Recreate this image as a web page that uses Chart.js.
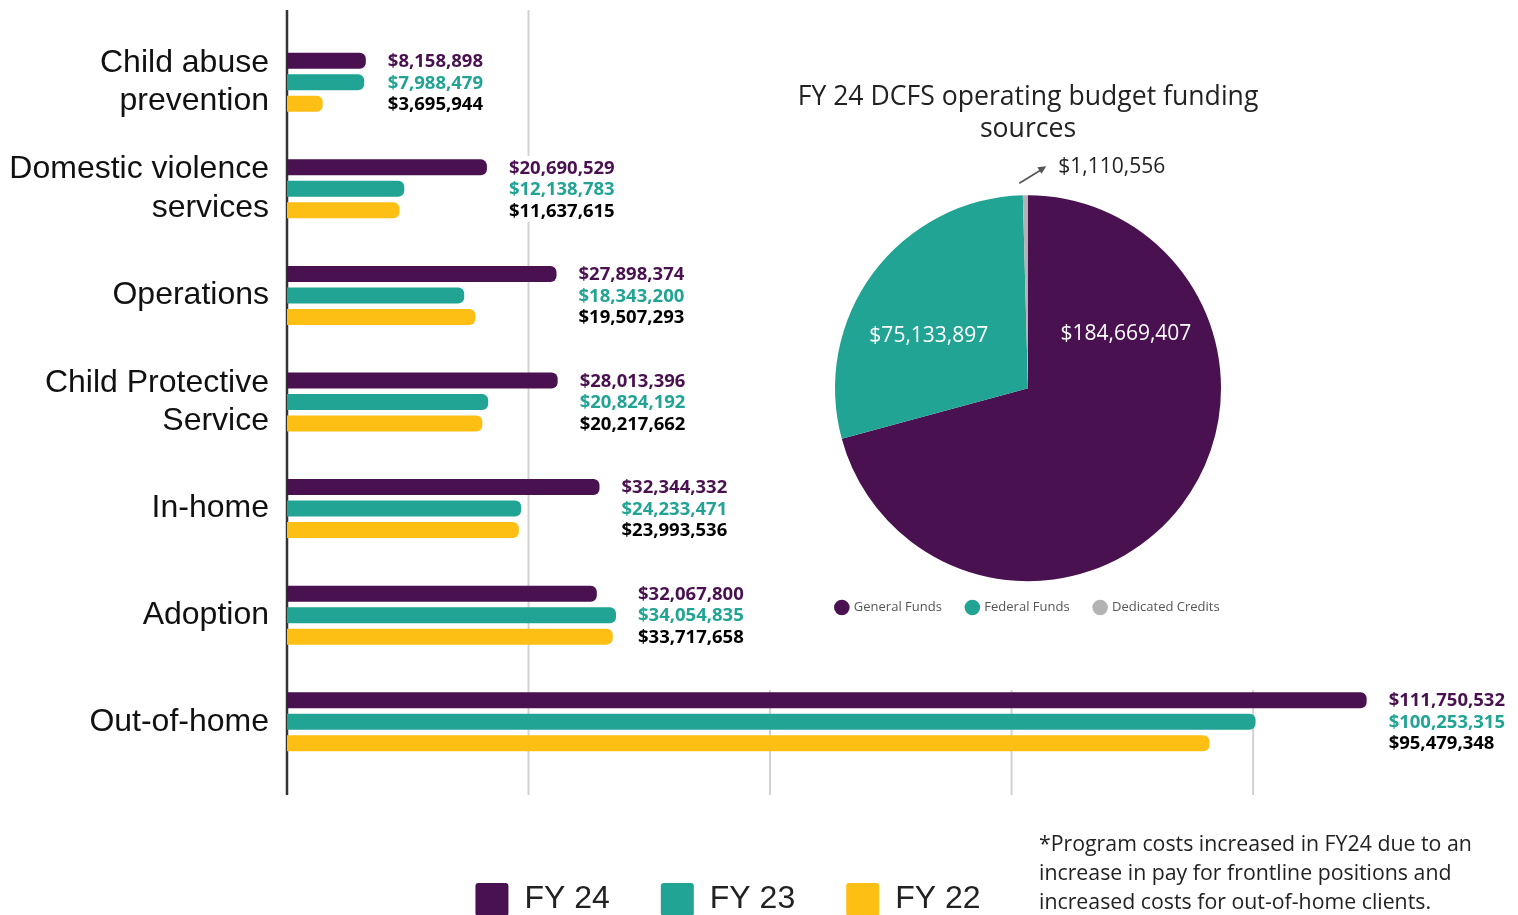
<!DOCTYPE html>
<html>
<head>
<meta charset="utf-8">
<script src="https://cdn.jsdelivr.net/npm/chart.js@4.4.0/dist/chart.umd.min.js"></script>
<style>
  html, body { margin: 0; padding: 0; background: #fff; overflow: hidden; }
  #bar-wrap { position: absolute; left: 0; top: 0; width: 1518px; height: 926px; }
  #pie-box { position: absolute; left: 760px; top: 0; width: 758px; height: 690px; background: #fff; }
  #pie-wrap { position: absolute; left: 18px; top: 70px; width: 500px; height: 554px; }
  #note { position: absolute; left: 1039px; top: 828px; font: 21.3px 'Open Sans', sans-serif; color: #222; line-height: 29px; }
</style>
</head>
<body>
<div id="bar-wrap"><canvas id="barChart"></canvas></div>
<div id="pie-box"><div id="pie-wrap"><canvas id="pieChart"></canvas></div></div>
<div id="note">*Program costs increased in FY24 due to an<br>increase in pay for frontline positions and<br>increased costs for out-of-home clients.</div>

<script>
// program spending by fiscal year
const programs = [
    ["Child abuse", "prevention"],
    ["Domestic violence", "services"],
    "Operations",
    ["Child Protective", "Service"],
    "In-home",
    "Adoption",
    "Out-of-home"
];
const fy24 = [8158898, 20690529, 27898374, 28013396, 32344332, 32067800, 111750532];
const fy23 = [7988479, 12138783, 18343200, 20824192, 24233471, 34054835, 100253315];
const fy22 = [3695944, 11637615, 19507293, 20217662, 23993536, 33717658, 95479348];
const yearLabels = ["FY 24", "FY 23", "FY 22"];
const gridValues = [0, 25000000, 50000000, 75000000, 100000000];

// FY 24 funding sources
const fundLabels = ["General Funds", "Federal Funds", "Dedicated Credits"];
const fundValues = [184669407, 75133897, 1110556];

const PURPLE = "#4a1150";
const TEAL = "#22a494";
const YELLOW = "#fdbf14";
const ARIAL = "'Liberation Sans', Arial, sans-serif";

Chart.defaults.font.family = "'Open Sans', sans-serif";

function money(v) {
    return "$" + v.toLocaleString("en-US");
}

// grid lines run a bit past the plot area, like the original
const extendedGrid = {
    id: "extendedGrid",
    beforeDatasetsDraw(chart) {
        const { ctx, chartArea, scales } = chart;
        const top = chartArea.top - 19;
        const bottom = chartArea.bottom + 20;
        ctx.save();
        gridValues.forEach(v => {
            const x = scales.x.getPixelForValue(v);
            ctx.beginPath();
            ctx.moveTo(x, top);
            ctx.lineTo(x, bottom);
            ctx.lineWidth = v === 0 ? 2.5 : 2;
            ctx.strokeStyle = v === 0 ? "#333" : "#d2d2d2";
            ctx.stroke();
        });
        ctx.restore();
    }
};

// stacked value labels to the right of each group
const groupLabels = {
    id: "groupLabels",
    afterDatasetsDraw(chart) {
        const { ctx } = chart;
        const colors = [PURPLE, TEAL, "#000"];
        ctx.save();
        ctx.font = "bold 18.5px 'Open Sans', sans-serif";
        ctx.textBaseline = "middle";
        ctx.textAlign = "left";
        chart.data.labels.forEach((_, i) => {
            const bars = chart.data.datasets.map((ds, d) => chart.getDatasetMeta(d).data[i]);
            const x0 = Math.max(...bars.map(b => b.x)) + 22;
            bars.forEach((b, d) => {
                const txt = money(chart.data.datasets[d].data[i]);
                const w = ctx.measureText(txt).width;
                ctx.fillStyle = "#fff";
                ctx.fillRect(x0 - 3, b.y - 11.5, w + 6, 23);
                ctx.fillStyle = colors[d];
                ctx.fillText(txt, x0, b.y + 1);
            });
        });
        ctx.restore();
    }
};

new Chart(document.getElementById("barChart"), {
    type: "bar",
    data: {
        labels: programs,
        datasets: [
            { label: yearLabels[0], data: fy24, backgroundColor: PURPLE },
            { label: yearLabels[1], data: fy23, backgroundColor: TEAL },
            { label: yearLabels[2], data: fy22, backgroundColor: YELLOW }
        ]
    },
    options: {
        indexAxis: "y",
        responsive: true,
        maintainAspectRatio: false,
        animation: false,
        events: [],
        layout: { padding: { top: 29, right: 62, bottom: 0, left: 0 } },
        datasets: {
            bar: {
                categoryPercentage: 0.605,
                barPercentage: 0.744,
                borderRadius: { topLeft: 0, bottomLeft: 0, topRight: 6, bottomRight: 6 },
                borderSkipped: false
            }
        },
        plugins: {
            legend: {
                position: "bottom",
                labels: {
                    boxWidth: 33,
                    boxHeight: 33,
                    padding: 51,
                    color: "#222",
                    useBorderRadius: true,
                    borderRadius: 3,
                    font: { family: ARIAL, size: 32 }
                }
            },
            tooltip: { enabled: false }
        },
        scales: {
            x: {
                min: 0,
                max: 121000000,
                ticks: { display: false, stepSize: 25000000 },
                grid: { display: false },
                border: { display: false },
                afterFit: s => { s.height = 57; }
            },
            y: {
                ticks: {
                    color: "#111",
                    padding: 18,
                    font: { family: ARIAL, size: 32 }
                },
                grid: { display: false, drawTicks: false },
                border: { display: false },
                afterFit: s => {
                    s.width = 287;
                    s.paddingTop = 0;
                    s.paddingBottom = 0;
                }
            }
        }
    },
    plugins: [extendedGrid, groupLabels]
});

// values inside the two big slices, arrow callout for the small one
const pieLabels = {
    id: "pieLabels",
    afterDraw(chart) {
        const { ctx } = chart;
        const arcs = chart.getDatasetMeta(0).data;
        ctx.save();
        ctx.font = "21px 'Open Sans', sans-serif";
        ctx.textBaseline = "middle";
        arcs.forEach((arc, i) => {
            const { x, y, startAngle, endAngle, outerRadius } = arc.getProps(["x", "y", "startAngle", "endAngle", "outerRadius"]);
            const txt = money(chart.data.datasets[0].data[i]);
            if (endAngle - startAngle < 0.2) {
                const a = (startAngle + endAngle) / 2;
                const px = x + Math.cos(a) * (outerRadius + 10);
                const py = y + Math.sin(a) * (outerRadius + 10);
                const x1 = px - 6, y1 = py - 2, x2 = px + 21, y2 = py - 19;
                ctx.strokeStyle = "#555";
                ctx.fillStyle = "#555";
                ctx.lineWidth = 1.6;
                ctx.beginPath();
                ctx.moveTo(x1, y1);
                ctx.lineTo(x2 - 5, y2 + 3.5);
                ctx.stroke();
                const ang = Math.atan2(y2 - y1, x2 - x1);
                ctx.beginPath();
                ctx.moveTo(x2, y2);
                ctx.lineTo(x2 - 9 * Math.cos(ang - 0.45), y2 - 9 * Math.sin(ang - 0.45));
                ctx.lineTo(x2 - 9 * Math.cos(ang + 0.45), y2 - 9 * Math.sin(ang + 0.45));
                ctx.closePath();
                ctx.fill();
                ctx.fillStyle = "#222";
                ctx.textAlign = "left";
                ctx.fillText(txt, px + 33, py - 18);
                return;
            }
            let a = (startAngle + endAngle) / 2 - 9 * Math.PI / 180;
            if (endAngle - startAngle > Math.PI) a = startAngle + 61 * Math.PI / 180;
            const r = outerRadius * 0.58;
            ctx.fillStyle = "#fff";
            ctx.textAlign = "center";
            ctx.fillText(txt, x + Math.cos(a) * r, y + Math.sin(a) * r);
        });
        ctx.restore();
    }
};

new Chart(document.getElementById("pieChart"), {
    type: "pie",
    data: {
        labels: fundLabels,
        datasets: [{
            data: fundValues,
            backgroundColor: [PURPLE, TEAL, "#b3b3b3"],
            borderWidth: 0,
            hoverOffset: 0
        }]
    },
    options: {
        responsive: true,
        maintainAspectRatio: false,
        animation: false,
        events: [],
        radius: 193,
        plugins: {
            title: {
                display: true,
                text: ["FY 24 DCFS operating budget funding", "sources"],
                color: "#222",
                font: { size: 26.6, weight: "normal", lineHeight: 1.22 },
                padding: { top: 11, bottom: 54.5 }
            },
            legend: {
                position: "bottom",
                labels: {
                    usePointStyle: true,
                    pointStyle: "circle",
                    boxWidth: 11,
                    boxHeight: 11,
                    padding: 25,
                    color: "#555",
                    font: { size: 13 }
                }
            },
            tooltip: { enabled: false }
        }
    },
    plugins: [pieLabels]
});
</script>
</body>
</html>
